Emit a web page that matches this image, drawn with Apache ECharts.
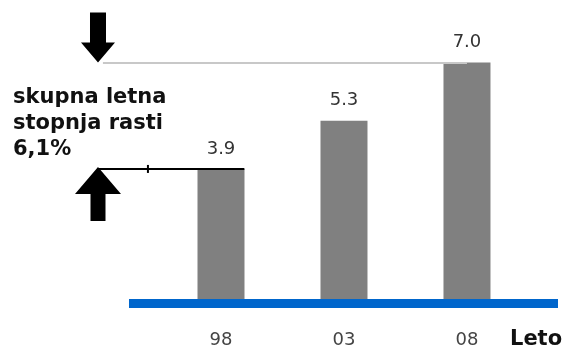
<!DOCTYPE html>
<html>
<head>
<meta charset="utf-8">
<script src="https://cdn.jsdelivr.net/npm/echarts@6/dist/echarts.min.js"></script>
<style>
    html, body {margin: 0; padding: 0; background: #fff;}
    #chartWrap {width: 563px; height: 349px;}
</style>
</head>
<body>
<div id="chartWrap"></div>
<script>
// data
const years = [1998, 2003, 2008];
const yearLabels = ['98', '03', '08'];
const values = [3.9, 5.3, 7.0];
const noteLines = ['skupna letna', 'stopnja rasti', '6,1%'];
const axisName = 'Leto';

const downArrow = 'path://M-8,-50L8,-50L8,-20L17,-20L0,0L-17,-20L-8,-20Z';
const upArrow = 'path://M0,0L23,27L7.5,27L7.5,54L-7.5,54L-7.5,27L-23,27Z';

let myChart = echarts.init(document.getElementById('chartWrap'));

myChart.setOption({
    animation: false,
    title: [
        {
            text: noteLines.join('\n'),
            left: 13,
            top: 85,
            padding: 0,
            textStyle: {
                fontFamily: 'DejaVu Sans',
                fontWeight: 'bold',
                fontSize: 21,
                lineHeight: 26,
                color: '#111'
            }
        },
        {
            text: axisName,
            left: 510,
            top: 329,
            padding: 0,
            textStyle: {
                fontFamily: 'DejaVu Sans',
                fontWeight: 'bold',
                fontSize: 21,
                color: '#111'
            }
        }
    ],
    grid: {
        left: 73.4,
        right: 5,
        top: 28,
        bottom: 43
    },
    xAxis: {
        type: 'value',
        min: 1992,
        max: 2011.7,
        axisLine: {show: false},
        axisTick: {show: false},
        splitLine: {show: false},
        axisLabel: {
            customValues: years,
            margin: 28,
            fontFamily: 'DejaVu Sans',
            fontSize: 18,
            color: '#444',
            formatter: function (v) {
                return yearLabels[years.indexOf(v)];
            }
        }
    },
    yAxis: {
        type: 'value',
        min: 0,
        max: 8,
        show: false
    },
    series: [
        {
            type: 'bar',
            barWidth: 47,
            itemStyle: {color: '#808080'},
            data: years.map(function (y, i) {
                return [y, values[i]];
            }),
            label: {
                show: true,
                position: 'top',
                distance: 11,
                fontFamily: 'DejaVu Sans',
                fontSize: 18,
                color: '#333',
                formatter: function (p) {
                    return p.value[1].toFixed(1);
                }
            },
            markLine: {
                silent: true,
                symbol: 'none',
                label: {show: false},
                data: [
                    // blue baseline
                    [
                        {coord: [1994.26, 0], lineStyle: {color: '#0066cc', width: 9, type: 'solid'}},
                        {coord: [2011.7, 0]}
                    ],
                    // grey guide at the 2008 value
                    [
                        {coord: [1993.2, values[2]], lineStyle: {color: '#c8c8c8', width: 2, type: 'solid'}},
                        {coord: [years[2], values[2]]}
                    ],
                    // black guide at the 1998 value
                    [
                        {coord: [1993.0, values[0]], lineStyle: {color: '#000', width: 2, type: 'solid'}},
                        {coord: [1998.95, values[0]]}
                    ]
                ]
            },
            markPoint: {
                silent: true,
                label: {show: false},
                itemStyle: {color: '#000'},
                data: [
                    {coord: [1993.0, values[2]], symbol: downArrow, symbolSize: [34, 50], symbolOffset: [0, -25]},
                    {coord: [1993.0, values[0]], symbol: upArrow, symbolSize: [46, 54], symbolOffset: [0, 25]},
                    {coord: [1995.03, values[0]], symbol: 'rect', symbolSize: [2, 8]}
                ]
            }
        }
    ]
});
</script>
</body>
</html>
